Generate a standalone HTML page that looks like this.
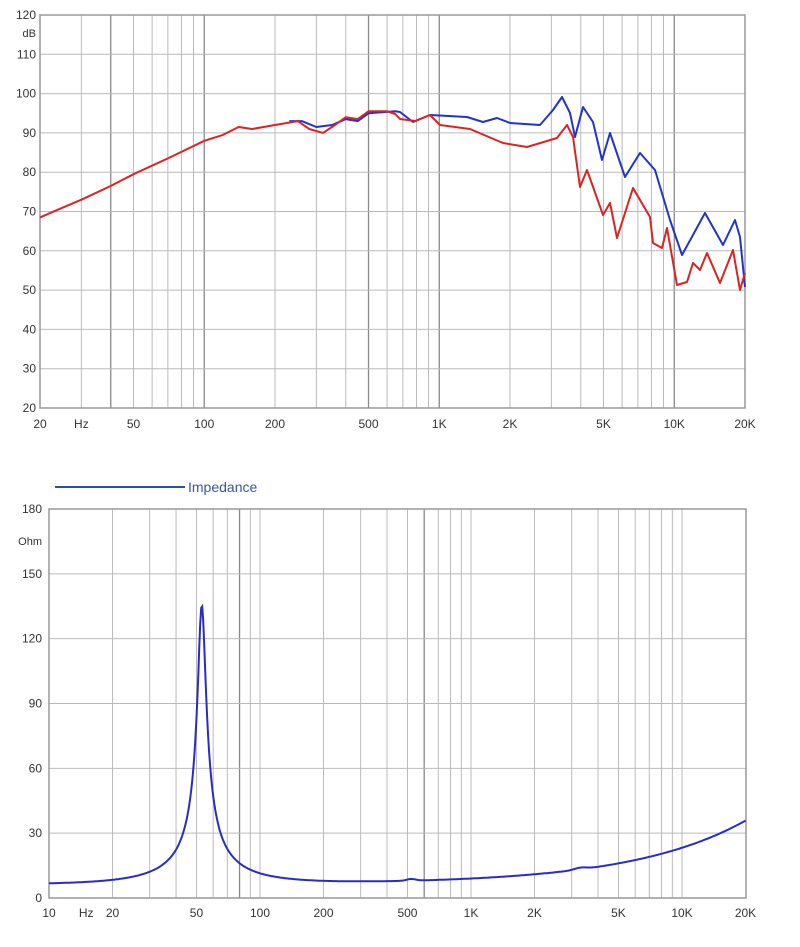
<!DOCTYPE html>
<html><head><meta charset="utf-8"><style>
body{margin:0;background:#fff;width:800px;height:947px;overflow:hidden}
svg{display:block;font-family:"Liberation Sans",sans-serif}
</style></head><body>
<svg id="s" width="800" height="947" xmlns="http://www.w3.org/2000/svg"></svg>
<script>
const s=document.getElementById('s');let h='';
const L=Math.log10;
const tx=f=>40+235*L(f/20), ty=d=>15+(120-d)*3.93;
const fr=[];for(let d=10;d<=10000;d*=10)for(let k=1;k<10;k++)fr.push(k*d);
fr.forEach(f=>{if(f>20&&f<20000){const x=tx(f);const dark=(f==40||f==500||f==15000||f==100||f==1000||f==10000);h+=`<line x1="${x}" y1="15" x2="${x}" y2="408" stroke="${dark?'#888':'#bbb'}" stroke-width="${dark?1.3:1}"/>`;}});
for(let d=20;d<=120;d+=10){const y=ty(d);h+=`<line x1="40" y1="${y}" x2="745" y2="${y}" stroke="#bbb"/><text x="36" y="${y+4}" font-size="12" text-anchor="end" fill="#333">${d}</text>`;}
h+=`<rect x="40" y="15" width="705" height="393" fill="none" stroke="#999" stroke-width="1.5"/>`;
h+=`<text x="36" y="37" font-size="11" text-anchor="end" fill="#333">dB</text>`;
[[20,'20'],[30,'Hz'],[50,'50'],[100,'100'],[200,'200'],[500,'500'],[1000,'1K'],[2000,'2K'],[5000,'5K'],[10000,'10K'],[20000,'20K']].forEach(([f,t])=>{h+=`<text x="${tx(f)}" y="428" font-size="12" text-anchor="middle" fill="#333">${t}</text>`;});
const redLow=[[20,68.5],[25,71],[30,73],[40,76.5],[50,79.5],[70,83.5],[100,88],[120,89.5],[140,91.5],[160,91],[200,92],[250,93],[280,91],[320,90],[360,92],[400,94],[450,93.5],[500,95.5],[600,95.5],[650,94.8]];
const redHi=[[400,119],[415,121],[430,115],[440,125],[470,129],[503,143],[527,147],[557,138],[567,125],[573,137],[580,187],[587,170],[603,215],[610,203],[617,238],[633,188],[650,217],[653,243],[662,248],[667,228],[677,285],[687,282],[693,263],[700,270],[707,253],[720,283],[733,250],[740,290],[745,273]];
const bluLow=[[230,93],[260,93],[300,91.5],[350,92],[400,93.5],[450,93],[500,95],[650,95.5]];
const bluHi=[[400,112],[413,122],[430,115],[467,117],[483,122],[497,118],[510,123],[540,125],[553,110],[562,97],[570,113],[575,137],[583,107],[593,122],[602,160],[610,133],[625,177],[640,153],[655,170],[670,220],[682,255],[705,213],[723,245],[735,220],[740,237],[745,287]];
const pth=(low,hi,c)=>{let p=low.map(([f,d],i)=>(i?'L':'M')+tx(f).toFixed(1)+' '+ty(d).toFixed(1)).join(' ');p+=' '+hi.map(([x,y])=>'L'+x+' '+y).join(' ');return `<path d="${p}" fill="none" stroke="${c}" stroke-width="2" stroke-linejoin="round"/>`;};
h+=pth(bluLow,bluHi,'#2233cc');h+=pth(redLow,redHi,'#dd2222');
const bx=f=>49+211*L(f/10), by=z=>898-z*2.161;
fr.forEach(f=>{if(f>10&&f<20000){const x=bx(f);const dark=(f==600||f==80);h+=`<line x1="${x}" y1="509" x2="${x}" y2="898" stroke="${dark?'#888':'#bbb'}" stroke-width="${dark?1.3:1}"/>`;}});
[0,30,60,90,120,150,180].forEach(z=>{const y=by(z);h+=`<line x1="49" y1="${y}" x2="746" y2="${y}" stroke="#bbb"/><text x="42" y="${y+4}" font-size="12" text-anchor="end" fill="#333">${z}</text>`;});
h+=`<rect x="49" y="509" width="697" height="389" fill="none" stroke="#999" stroke-width="1.5"/>`;
h+=`<text x="42" y="545" font-size="11" text-anchor="end" fill="#333">Ohm</text>`;
[[10,'10'],[15,'Hz'],[20,'20'],[50,'50'],[100,'100'],[200,'200'],[500,'500'],[1000,'1K'],[2000,'2K'],[5000,'5K'],[10000,'10K'],[20000,'20K']].forEach(([f,t])=>{h+=`<text x="${bx(f)}" y="917" font-size="12" text-anchor="middle" fill="#333">${t}</text>`;});
let p='';for(let i=0;i<=700;i++){const f=10*Math.pow(2000,i/700);const fs=53,Q=11,Re=6.3,Rm=129;const u=Q*(f/fs-fs/f);const dn=1+u*u;const re=Re+Rm/dn,im=-Rm*u/dn;let z=Math.hypot(re,im)+29.5*Math.pow(f/20000,0.8);if(f>400&&f<700)z+=0.8*Math.exp(-Math.pow(L(f/520)/0.03,2));if(f>2800&&f<4500)z+=0.8*Math.exp(-Math.pow(L(f/3300)/0.04,2));p+=(i?'L':'M')+bx(f).toFixed(1)+' '+by(z).toFixed(1)+' ';}
h+=`<path d="${p}" fill="none" stroke="#2a2acc" stroke-width="2"/>`;
h+=`<line x1="55" y1="487" x2="185" y2="487" stroke="#2a4fa8" stroke-width="2"/><text x="188" y="492" font-size="14" fill="#3355aa">Impedance</text>`;
s.innerHTML=h;
</script>
</body></html>
